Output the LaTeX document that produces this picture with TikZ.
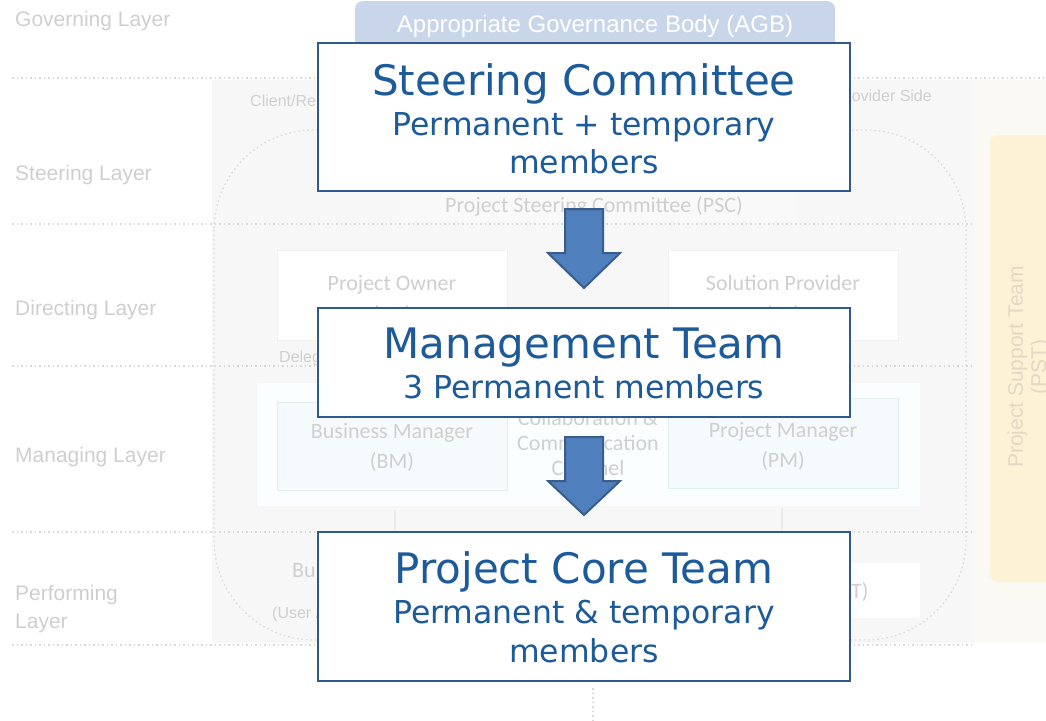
\documentclass[tikz,border=0pt]{standalone}
\usepackage{fontspec}
\setmainfont{DejaVu Sans}
\newfontfamily\bgfont{Liberation Sans}
\newfontfamily\calfont{Carlito}
\usetikzlibrary{calc}
\definecolor{mainblue}{HTML}{1C5A99}
\definecolor{boxborder}{HTML}{2E5B8F}
\definecolor{arrowfill}{HTML}{4F7FBC}
\definecolor{arrowborder}{HTML}{3A5E8C}
\definecolor{fadetext}{HTML}{CFCFCF}
\definecolor{fadeline}{HTML}{D8D8D8}
\definecolor{panelgray}{HTML}{F7F7F7}
\definecolor{warmgray}{HTML}{FBF9F4}
\definecolor{agbfill}{HTML}{C9D6EA}
\definecolor{pstfill}{HTML}{FEF2D6}
\definecolor{psttext}{HTML}{E2D8C4}
\definecolor{mgfill}{HTML}{F5FBFC}
\definecolor{mgborder}{HTML}{E3EEF0}
\tikzset{
  mainbox/.style={draw=boxborder, line width=2pt, fill=white, inner sep=0pt},
  titletext/.style={text=mainblue, anchor=base, inner sep=0pt, font=\fontsize{42}{46}\selectfont},
  subtext/.style={text=mainblue, anchor=base, inner sep=0pt, font=\fontsize{31.5}{36}\selectfont},
  bigarrow/.style={fill=arrowfill, draw=arrowborder, line width=2pt, line join=miter},
  layerlabel/.style={text=fadetext, anchor=base west, inner sep=0pt, font=\bgfont\fontsize{21}{24}\selectfont},
  fadetxt/.style={text=fadetext, anchor=base, inner sep=0pt, font=\calfont\fontsize{22}{24}\selectfont},
  smalltxt/.style={text=fadetext, inner sep=0pt, font=\bgfont\fontsize{16}{18}\selectfont},
  dotline/.style={draw=fadeline, line width=1.2pt, dash pattern=on 1.5pt off 3pt},
  fadebox/.style={draw=black!6, fill=white, line width=1pt, inner sep=0pt},
  mgbox/.style={draw=mgborder, fill=mgfill, line width=1pt, inner sep=0pt}
}
\begin{document}
\begin{tikzpicture}[x=1pt,y=-1pt]
\useasboundingbox (0,0) rectangle (1046,720);
\fill[white] (0,0) rectangle (1046,720);
% ---------- faded background ----------
\fill[panelgray] (212,80) rectangle (1046,643);
\fill[warmgray] (975,80) rectangle (1046,643);
\fill[black!2.5] (400,190) rectangle (797,222);
% AGB
\node[fill=agbfill, rounded corners=8pt, minimum width=480, minimum height=50, inner sep=0pt,
      text=white, font=\bgfont\fontsize{24}{26}\selectfont] (agb) at (595,26) {Appropriate Governance Body (AGB)};
% layer labels
\node[layerlabel] (lgov) at (15,27) {Governing Layer};
\node[layerlabel] (lste) at (15,180) {Steering Layer};
\node[layerlabel] (ldir) at (15,315) {Directing Layer};
\node[layerlabel] (lman) at (15,462) {Managing Layer};
\node[layerlabel] (lper) at (15,600) {Performing};
\node[layerlabel] (lper2) at (15,628) {Layer};
% dotted separators
\draw[dotline] (12,78) -- (1046,78);
\draw[dotline] (12,224) -- (975,224);
\draw[dotline] (12,366) -- (975,366);
\draw[dotline] (12,532) -- (975,532);
\draw[dotline] (12,645) -- (975,645);
\draw[dotline] (593,688) -- (593,720);
% side labels
\node[smalltxt, anchor=base west] (client) at (250,106) {Client/Re};
\node[smalltxt, anchor=base east] (provider) at (932,101) {ovider Side};
% dashed rounded boundary
\draw[dotline, rounded corners=100pt] (214,130) rectangle (966,640);
% PSC label
\node[fadetxt] (psc) at (594,212) {Project Steering Committee (PSC)};
% PO / SP
\node[fadebox, minimum width=230, minimum height=90] (po) at (392,295) {};
\node[fadebox, minimum width=230, minimum height=90] (sp) at (783,295) {};
\node[fadetxt] (pot) at (392,290) {Project Owner};
\node[fadetxt] (pot2) at (392,321) {(PO)};
\node[fadetxt] (spt) at (783,290) {Solution Provider};
\node[fadetxt] (spt2) at (783,321) {(SP)};
\node[smalltxt, anchor=base west] (deleg) at (279,362) {Deleg};
% Managing
\node[draw=black!4, fill=white!98.5!cyan, line width=1pt, minimum width=664, minimum height=124, inner sep=0pt] (mgouter) at (588,444) {};
\node[mgbox, minimum width=230, minimum height=88] (bm) at (392,446) {};
\node[mgbox, minimum width=230, minimum height=90] (pm) at (783,443) {};
\node[fadetxt] (bmt) at (392,438) {Business Manager};
\node[fadetxt] (bmt2) at (392,468) {(BM)};
\node[fadetxt] (pmt) at (783,437) {Project Manager};
\node[fadetxt] (pmt2) at (783,467) {(PM)};
\node[fadetxt] (cc1) at (588,425) {Collaboration \&};
\node[fadetxt] (cc2) at (588,450) {Communication};
\node[fadetxt] (cc3) at (588,475) {Channel};
\draw[draw=black!8, line width=1.5pt] (bm.south) ++(3,19) -- ++(0,30) coordinate (bmdown);
\draw[draw=black!8, line width=1.5pt] (pm.south) ++(-1,19) -- ++(0,30) coordinate (pmdown);
% Performing
\node[fill=white, minimum width=80, minimum height=55, inner sep=0pt] (ptbox) at (880,590) {};
\node[fadetxt, anchor=base west] (bu) at (292,577) {Bu};
\node[smalltxt, anchor=base west] (user) at (272,618) {(User A};
\node[fadetxt, anchor=base west] (tt) at (851,598) {T)};
% PST
\node[fill=pstfill, rounded corners=8pt, minimum width=80, minimum height=447, inner sep=0pt] (pst) at (1030,358.5) {};
\node[rotate=90, text=psttext, font=\bgfont\fontsize{21}{23}\selectfont, align=center, inner sep=0pt] (pstt) at (1029,367) {Project Support Team\\(PST)};
% ---------- foreground ----------
\node[mainbox, minimum width=532, minimum height=148] (b1) at (584,117) {};
\node[mainbox, minimum width=532, minimum height=109] (b2) at (584,362.5) {};
\node[mainbox, minimum width=532, minimum height=149] (b3) at (584,606.5) {};
\node[titletext] (t1) at (584,95) {Steering Committee};
\node[subtext] (s1a) at (584,135) {Permanent + temporary};
\node[subtext] (s1b) at (584,173) {members};
\node[titletext] (t2) at (584,358) {Management Team};
\node[subtext] (s2a) at (584,398) {3 Permanent members};
\node[titletext] (t3) at (584,583) {Project Core Team};
\node[subtext] (s3a) at (584,623) {Permanent \& temporary};
\node[subtext] (s3b) at (584,662) {members};
\draw[bigarrow] ($(b1.south)+(-19,17)$) -- ($(b1.south)+(19,17)$) -- ($(b2.north)+(19,-54)$)
  -- ($(b2.north)+(36,-54)$) -- ($(b2.north)+(0,-19)$) -- ($(b2.north)+(-36,-54)$)
  -- ($(b2.north)+(-19,-54)$) -- cycle;
\draw[bigarrow] ($(b2.south)+(-19,19)$) -- ($(b2.south)+(19,19)$) -- ($(b3.north)+(19,-50)$)
  -- ($(b3.north)+(36,-50)$) -- ($(b3.north)+(0,-16)$) -- ($(b3.north)+(-36,-50)$)
  -- ($(b3.north)+(-19,-50)$) -- cycle;
\end{tikzpicture}
\end{document}
